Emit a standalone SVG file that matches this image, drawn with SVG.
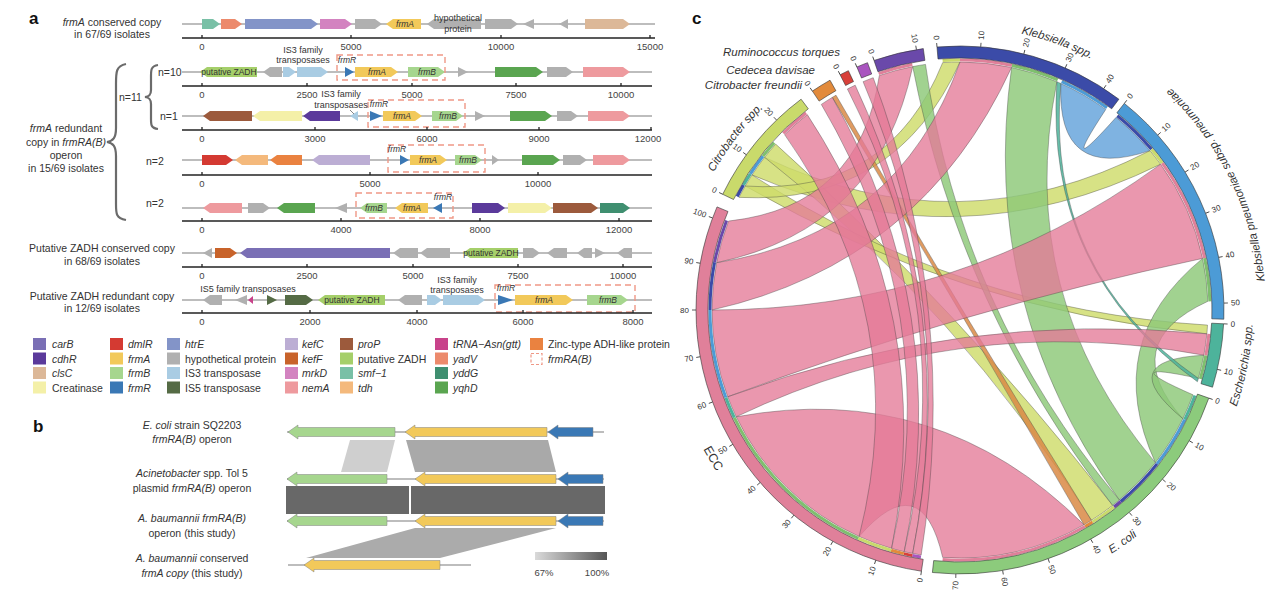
<svg xmlns="http://www.w3.org/2000/svg" width="1267" height="596" viewBox="0 0 1267 596">
<style>
text{font-family:"Liberation Sans",Arial,sans-serif;fill:#333}
.pl{font-size:17px;font-weight:bold;fill:#111}
.lab{font-size:10.5px;text-anchor:middle}
.i{font-style:italic}
.tk{font-size:9.5px;text-anchor:middle;fill:#444}
.gl{font-size:8.5px;font-style:italic;text-anchor:middle}
.gn{font-size:8.5px;text-anchor:middle}
.sm{font-size:9px;text-anchor:middle}
.trk{stroke:#bdbdbd;stroke-width:2}
.ax{stroke:#222;stroke-width:1.3}
.box{fill:none;stroke:#ef9886;stroke-width:1.4;stroke-dasharray:6 4}
.leg{font-size:10.5px}
.brace{fill:none;stroke:#6b6b6b;stroke-width:2.2}
.gb{stroke:#808080;stroke-width:0.5}
.ch{stroke:#3d3d3d;stroke-width:0.5;stroke-opacity:0.75}
.pk{fill:#e47a97;fill-opacity:0.78}
.gr{fill:#8cc878;fill-opacity:0.82}
.yl{fill:#cedc6a;fill-opacity:0.82}
.bl{fill:#69a6dc;fill-opacity:0.85}
.te{fill:#4db39b;fill-opacity:0.85}
.or{fill:#d98a45;fill-opacity:0.85}
.sec{stroke:#333;stroke-width:0.6}
.ctk{stroke:#333;stroke-width:0.8}
.cl{font-size:8px;dominant-baseline:central}
.cr{font-size:8px;dominant-baseline:central;text-anchor:end}
.st{fill:none;stroke-width:3}
.sl{font-size:11.5px;font-style:italic;text-anchor:middle}
.carB{fill:#7a6fb5}.cdhR{fill:#5b3a9b}.clsC{fill:#dcb898}.crea{fill:#f4f0a8}
.dmlR{fill:#d43a32}.frmA{fill:#f2c95a}.frmB{fill:#a6d68e}.frmR{fill:#3a78b5}
.htrE{fill:#8394c8}.hyp{fill:#b0b0b0}.is3{fill:#a9cce3}.is5{fill:#556b45}
.kefC{fill:#bcaed4}.kefF{fill:#c8632a}.mrkD{fill:#d383c0}.nemA{fill:#ee9a9e}
.proP{fill:#9c5a3c}.zadh{fill:#a5cf6a}.smf{fill:#79c0a6}.tdh{fill:#f4b97c}
.trna{fill:#c8428a}.yadV{fill:#ec8a6c}.yddG{fill:#3f8f70}.yqhD{fill:#5aa550}.zinc{fill:#ea8240}
</style>
<defs>
<line id="tkl" class="ctk" x1="958" y1="54" x2="958" y2="50"/>
<linearGradient id="simg" x1="0" x2="1" y1="0" y2="0"><stop offset="0" stop-color="#dadada"/><stop offset="1" stop-color="#555"/></linearGradient>
<path id="pKS" d="M 958 35 A 283 283 0 0 1 1139.9 101.2"/>
<path id="pKP" d="M 1263.8 307.3 A 306 306 0 0 0 1154.7 83.6"/>
<path id="pES" d="M 1225.7 437.2 A 293 293 0 0 0 1250.8 307.8"/>
<path id="pEC" d="M 1088.3 573.7 A 287 287 0 0 0 1153.7 527.9"/>
<path id="pECC" d="M 689.2 432.1 A 292 292 0 0 0 731.1 501.8"/>
<path id="pCS" d="M 693.0 221.6 A 282 282 0 0 1 796.2 87.0"/>
</defs>
<rect width="1267" height="596" fill="#fff"/>

<!-- ============ PANEL A ============ -->
<g id="panel-a">
<text class="pl" x="29" y="24">a</text>
<g id="labels-a">
<text class="lab" x="112" y="26"><tspan class="i">frmA</tspan> conserved copy</text>
<text class="lab" x="112" y="38">in 67/69 isolates</text>
<text class="lab" x="66" y="132"><tspan class="i">frmA</tspan> redundant</text>
<text class="lab" x="66" y="146">copy in <tspan class="i">frmRA(B)</tspan></text>
<text class="lab" x="66" y="159">operon</text>
<text class="lab" x="66" y="172">in 15/69 isolates</text>
<text class="lab" x="102" y="252">Putative ZADH conserved copy</text>
<text class="lab" x="102" y="265">in 68/69 isolates</text>
<text class="lab" x="102" y="300">Putative ZADH redundant copy</text>
<text class="lab" x="102" y="312">in 12/69 isolates</text>
<path class="brace" d="M126,64 C116,66 116,72 116,84 L116,128 C116,138 113,141 107,142 C113,143 116,146 116,156 L116,204 C116,214 116,218 126,220"/>
<path class="brace" d="M158,65 C151,66 151,70 151,76 L151,90 C151,95 149,96.5 145,97 C149,97.5 151,99 151,104 L151,119 C151,125 151,128 158,129"/>
<text class="leg" x="119" y="101">n=11</text>
<text class="leg" x="158" y="76">n=10</text>
<text class="leg" x="160" y="120">n=1</text>
<text class="leg" x="146" y="165">n=2</text>
<text class="leg" x="146" y="207">n=2</text>
</g>

<g id="track1" transform="translate(0,24)">
<line class="trk" x1="182" y1="0" x2="655" y2="0"/>
<polygon class="smf" points="202,-5 213,-5 220,0 213,5 202,5"/>
<polygon class="yadV" points="221,-5 235,-5 242,0 235,5 221,5"/>
<polygon class="htrE" points="245,-5 311,-5 318,0 311,5 245,5"/>
<polygon class="mrkD" points="320,-5 345,-5 352,0 345,5 320,5"/>
<polygon class="hyp" points="355,-5 375,-5 382,0 375,5 355,5"/>
<polygon class="frmA" points="421,-5 393,-5 386,0 393,5 421,5"/>
<polygon class="hyp" points="481,-5 434,-5 427,0 434,5 481,5"/>
<polygon class="hyp" points="485,-5 511,-5 518,0 511,5 485,5"/>
<polygon class="hyp" points="534,-5 523,0 534,5"/>
<polygon class="hyp" points="568,-5 559,0 568,5"/>
<polygon class="clsC" points="585,-5 623,-5 630,0 623,5 585,5"/>
<text class="gl" x="405" y="3">frmA</text>
<text class="sm" x="458" y="-3">hypothetical</text>
<text class="sm" x="458" y="8">protein</text>
<line class="ax" x1="182" y1="14" x2="655" y2="14"/>
<path class="ax" d="M202 11V14M351 11V14M501 11V14M650 11V14"/>
<text class="tk" x="202" y="26">0</text><text class="tk" x="351" y="26">5000</text><text class="tk" x="501" y="26">10000</text><text class="tk" x="650" y="26">15000</text>
</g>

<g id="track2" transform="translate(0,72)">
<line class="trk" x1="182" y1="0" x2="652" y2="0"/>
<polygon class="zadh" points="257,-5 207,-5 200,0 207,5 257,5"/>
<polygon class="hyp" points="282,-5 270,-5 263,0 270,5 282,5"/>
<polygon class="is3" points="283,-5 289,-5 296,0 289,5 283,5"/>
<polygon class="is3" points="297,-5 321,-5 328,0 321,5 297,5"/>
<polygon class="frmR" points="345,-5 354,0 345,5"/>
<polygon class="frmA" points="355,-5 391,-5 398,0 391,5 355,5"/>
<polygon class="frmB" points="408,-5 438,-5 445,0 438,5 408,5"/>
<polygon class="hyp" points="458,-5 468,0 458,5"/>
<polygon class="yqhD" points="495,-5 536,-5 543,0 536,5 495,5"/>
<polygon class="hyp" points="547,-5 566,-5 573,0 566,5 547,5"/>
<polygon class="nemA" points="583,-5 623,-5 630,0 623,5 583,5"/>
<rect class="box" x="337" y="-17" width="108" height="25"/>
<text class="gn" x="229" y="3">putative ZADH</text>
<text class="gl" x="377" y="3">frmA</text>
<text class="gl" x="427" y="3">frmB</text>
<text class="gl" x="347" y="-9">frmR</text>
<text class="sm" x="303" y="-19">IS3 family</text>
<text class="sm" x="303" y="-9">transposases</text>
<line class="ax" x1="182" y1="14" x2="652" y2="14"/>
<path class="ax" d="M202 11V14M307 11V14M412 11V14M516 11V14M621 11V14"/>
<text class="tk" x="202" y="26">0</text><text class="tk" x="307" y="26">2500</text><text class="tk" x="412" y="26">5000</text><text class="tk" x="516" y="26">7500</text><text class="tk" x="621" y="26">10000</text>
</g>

<g id="track3" transform="translate(0,116)">
<line class="trk" x1="182" y1="0" x2="652" y2="0"/>
<polygon class="proP" points="252,-5 210,-5 203,0 210,5 252,5"/>
<polygon class="crea" points="302,-5 260,-5 253,0 260,5 302,5"/>
<polygon class="cdhR" points="340,-5 310,-5 303,0 310,5 340,5"/>
<polygon class="is3" points="358,-5 350,0 358,5"/>
<polygon class="frmR" points="370,-5 382,0 370,5"/>
<polygon class="frmA" points="383,-5 415,-5 422,0 415,5 383,5"/>
<polygon class="frmB" points="432,-5 456,-5 463,0 456,5 432,5"/>
<polygon class="hyp" points="475,-5 485,0 475,5"/>
<polygon class="yqhD" points="510,-5 545,-5 552,0 545,5 510,5"/>
<polygon class="hyp" points="557,-5 571,-5 578,0 571,5 557,5"/>
<polygon class="nemA" points="588,-5 623,-5 630,0 623,5 588,5"/>
<rect class="box" x="368" y="-16" width="97" height="27"/>
<text class="gl" x="402" y="3">frmA</text>
<text class="gl" x="448" y="3">frmB</text>
<text class="gl" x="379" y="-9">frmR</text>
<text class="sm" x="341" y="-19">IS3 family</text>
<text class="sm" x="341" y="-8">transposases</text>
<line x1="350" y1="-6" x2="354" y2="-2" stroke="#555" stroke-width="0.7"/>
<line class="ax" x1="182" y1="14" x2="652" y2="14"/>
<path class="ax" d="M202 11V14M315 11V14M427 11V14M539 11V14M651 11V14"/>
<text class="tk" x="202" y="26">0</text><text class="tk" x="315" y="26">3000</text><text class="tk" x="427" y="26">6000</text><text class="tk" x="539" y="26">9000</text><text class="tk" x="648" y="26">12000</text>
</g>

<g id="track4" transform="translate(0,160)">
<line class="trk" x1="182" y1="0" x2="652" y2="0"/>
<polygon class="dmlR" points="202,-5 226,-5 233,0 226,5 202,5"/>
<polygon class="tdh" points="268,-5 242,-5 235,0 242,5 268,5"/>
<polygon class="zinc" points="302,-5 277,-5 270,0 277,5 302,5"/>
<polygon class="kefC" points="370,-5 319,-5 312,0 319,5 370,5"/>
<polygon class="frmR" points="400,-5 409,0 400,5"/>
<polygon class="frmA" points="410,-5 440,-5 447,0 440,5 410,5"/>
<polygon class="frmB" points="455,-5 475,-5 482,0 475,5 455,5"/>
<polygon class="hyp" points="492,-5 499,0 492,5"/>
<polygon class="yqhD" points="522,-5 553,-5 560,0 553,5 522,5"/>
<polygon class="hyp" points="563,-5 580,-5 587,0 580,5 563,5"/>
<polygon class="nemA" points="593,-5 623,-5 630,0 623,5 593,5"/>
<rect class="box" x="388" y="-15" width="97" height="27"/>
<text class="gl" x="428" y="3">frmA</text>
<text class="gl" x="468" y="3">frmB</text>
<text class="gl" x="397" y="-8">frmR</text>
<line class="ax" x1="182" y1="15" x2="652" y2="15"/>
<path class="ax" d="M202 12V15M370 12V15M538 12V15"/>
<text class="tk" x="202" y="27">0</text><text class="tk" x="370" y="27">5000</text><text class="tk" x="538" y="27">10000</text>
</g>

<g id="track5" transform="translate(0,208)">
<line class="trk" x1="182" y1="0" x2="652" y2="0"/>
<polygon class="nemA" points="242,-5 210,-5 203,0 210,5 242,5"/>
<polygon class="hyp" points="248,-5 263,-5 270,0 263,5 248,5"/>
<polygon class="yqhD" points="315,-5 284,-5 277,0 284,5 315,5"/>
<polygon class="hyp" points="347,-5 335,0 347,5"/>
<polygon class="frmB" points="387,-5 367,-5 360,0 367,5 387,5"/>
<polygon class="frmA" points="428,-5 402,-5 395,0 402,5 428,5"/>
<polygon class="frmR" points="442,-5 433,0 442,5"/>
<polygon class="cdhR" points="472,-5 498,-5 505,0 498,5 472,5"/>
<polygon class="crea" points="508,-5 545,-5 552,0 545,5 508,5"/>
<polygon class="proP" points="553,-5 591,-5 598,0 591,5 553,5"/>
<polygon class="yddG" points="600,-5 623,-5 630,0 623,5 600,5"/>
<rect class="box" x="356" y="-15" width="97" height="25"/>
<text class="gl" x="374" y="3">frmB</text>
<text class="gl" x="412" y="3">frmA</text>
<text class="gl" x="443" y="-8">frmR</text>
<line class="ax" x1="182" y1="13" x2="652" y2="13"/>
<path class="ax" d="M202 10V13M341 10V13M480 10V13M619 10V13"/>
<text class="tk" x="202" y="25">0</text><text class="tk" x="341" y="25">4000</text><text class="tk" x="480" y="25">8000</text><text class="tk" x="619" y="25">12000</text>
</g>

<g id="track6" transform="translate(0,253)">
<line class="trk" x1="182" y1="0" x2="652" y2="0"/>
<polygon class="hyp" points="212,-5 203,0 212,5"/>
<polygon class="kefF" points="215,-5 230,-5 237,0 230,5 215,5"/>
<polygon class="carB" points="390,-5 247,-5 240,0 247,5 390,5"/>
<polygon class="hyp" points="418,-5 400,-5 393,0 400,5 418,5"/>
<polygon class="hyp" points="450,-5 427,-5 420,0 427,5 450,5"/>
<polygon class="zadh" points="518,-5 470,-5 463,0 470,5 518,5"/>
<polygon class="hyp" points="523,-5 533,-5 540,0 533,5 523,5"/>
<polygon class="hyp" points="567,-5 554,-5 547,0 554,5 567,5"/>
<polygon class="hyp" points="592,-5 584,-5 577,0 584,5 592,5"/>
<polygon class="hyp" points="595,-5 605,0 595,5"/>
<polygon class="hyp" points="632,-5 624,-5 617,0 624,5 632,5"/>
<text class="gn" x="491" y="3">putative ZADH</text>
<line class="ax" x1="182" y1="14" x2="652" y2="14"/>
<path class="ax" d="M202 11V14M307 11V14M413 11V14M518 11V14M623 11V14"/>
<text class="tk" x="202" y="26">0</text><text class="tk" x="307" y="26">2500</text><text class="tk" x="413" y="26">5000</text><text class="tk" x="518" y="26">7500</text><text class="tk" x="623" y="26">10000</text>
</g>

<g id="track7" transform="translate(0,300)">
<line class="trk" x1="182" y1="0" x2="652" y2="0"/>
<polygon class="hyp" points="222,-5 210,-5 203,0 210,5 222,5"/>
<polygon class="hyp" points="247,-5 235,0 247,5"/>
<polygon class="trna" points="253,-4 248,0 253,4"/>
<polygon class="is5" points="267,-5 277,0 267,5"/>
<polygon class="is5" points="285,-5 306,-5 313,0 306,5 285,5"/>
<polygon class="zadh" points="385,-5 325,-5 318,0 325,5 385,5"/>
<polygon class="hyp" points="422,-5 405,-5 398,0 405,5 422,5"/>
<polygon class="is3" points="427,-5 435,-5 442,0 435,5 427,5"/>
<polygon class="is3" points="443,-5 478,-5 485,0 478,5 443,5"/>
<polygon class="frmR" points="498,-5 513,0 498,5"/>
<polygon class="frmA" points="515,-5 566,-5 573,0 566,5 515,5"/>
<polygon class="frmB" points="587,-5 621,-5 628,0 621,5 587,5"/>
<rect class="box" x="495" y="-15" width="140" height="27"/>
<text class="gn" x="352" y="3">putative ZADH</text>
<text class="gl" x="544" y="3">frmA</text>
<text class="gl" x="608" y="3">frmB</text>
<text class="gl" x="506" y="-9">frmR</text>
<text class="sm" x="248" y="-8" text-anchor="start">IS5 family transposases</text>
<text class="sm" x="457" y="-17">IS3 family</text>
<text class="sm" x="457" y="-7">transposases</text>
<line class="ax" x1="182" y1="13" x2="652" y2="13"/>
<path class="ax" d="M202 10V13M310 10V13M417 10V13M523 10V13M633 10V13"/>
<text class="tk" x="202" y="25">0</text><text class="tk" x="310" y="25">2000</text><text class="tk" x="417" y="25">4000</text><text class="tk" x="523" y="25">6000</text><text class="tk" x="633" y="25">8000</text>
</g>

<g id="legend-a">
<rect class="carB" x="33" y="338" width="13" height="12"/><text class="leg i" x="52" y="348">carB</text>
<rect class="cdhR" x="33" y="352.5" width="13" height="12"/><text class="leg i" x="52" y="362.5">cdhR</text>
<rect class="clsC" x="33" y="367" width="13" height="12"/><text class="leg i" x="52" y="377">clsC</text>
<rect class="crea" x="33" y="381.5" width="13" height="12"/><text class="leg" x="52" y="391.5">Creatinase</text>
<rect class="dmlR" x="110" y="338" width="13" height="12"/><text class="leg i" x="128" y="348">dmlR</text>
<rect class="frmA" x="110" y="352.5" width="13" height="12"/><text class="leg i" x="128" y="362.5">frmA</text>
<rect class="frmB" x="110" y="367" width="13" height="12"/><text class="leg i" x="128" y="377">frmB</text>
<rect class="frmR" x="110" y="381.5" width="13" height="12"/><text class="leg i" x="128" y="391.5">frmR</text>
<rect class="htrE" x="167" y="338" width="13" height="12"/><text class="leg i" x="185" y="348">htrE</text>
<rect class="hyp" x="167" y="352.5" width="13" height="12"/><text class="leg" x="185" y="362.5">hypothetical protein</text>
<rect class="is3" x="167" y="367" width="13" height="12"/><text class="leg" x="185" y="377">IS3 transposase</text>
<rect class="is5" x="167" y="381.5" width="13" height="12"/><text class="leg" x="185" y="391.5">IS5 transposase</text>
<rect class="kefC" x="285" y="338" width="13" height="12"/><text class="leg i" x="302" y="348">kefC</text>
<rect class="kefF" x="285" y="352.5" width="13" height="12"/><text class="leg i" x="302" y="362.5">kefF</text>
<rect class="mrkD" x="285" y="367" width="13" height="12"/><text class="leg i" x="302" y="377">mrkD</text>
<rect class="nemA" x="285" y="381.5" width="13" height="12"/><text class="leg i" x="302" y="391.5">nemA</text>
<rect class="proP" x="340" y="338" width="13" height="12"/><text class="leg i" x="358" y="348">proP</text>
<rect class="zadh" x="340" y="352.5" width="13" height="12"/><text class="leg" x="358" y="362.5">putative ZADH</text>
<rect class="smf" x="340" y="367" width="13" height="12"/><text class="leg i" x="358" y="377">smf−1</text>
<rect class="tdh" x="340" y="381.5" width="13" height="12"/><text class="leg i" x="358" y="391.5">tdh</text>
<rect class="trna" x="435" y="338" width="13" height="12"/><text class="leg i" x="453" y="348">tRNA−Asn(gtt)</text>
<rect class="yadV" x="435" y="352.5" width="13" height="12"/><text class="leg i" x="453" y="362.5">yadV</text>
<rect class="yddG" x="435" y="367" width="13" height="12"/><text class="leg i" x="453" y="377">yddG</text>
<rect class="yqhD" x="435" y="381.5" width="13" height="12"/><text class="leg i" x="453" y="391.5">yqhD</text>
<rect class="zinc" x="530" y="338" width="13" height="12"/><text class="leg" x="548" y="348">Zinc-type ADH-like protein</text>
<rect x="531" y="353.5" width="11" height="11" fill="none" stroke="#ef9886" stroke-width="1.2" stroke-dasharray="3 2"/><text class="leg i" x="548" y="362.5">frmRA(B)</text>
</g>
</g>

<!-- ============ PANEL B ============ -->
<g id="panel-b">
<text class="pl" x="33" y="432">b</text>
<text class="lab" x="192" y="429"><tspan class="i">E. coli</tspan> strain SQ2203</text>
<text class="lab" x="192" y="443"><tspan class="i">frmRA(B)</tspan> operon</text>
<text class="lab" x="192" y="477"><tspan class="i">Acinetobacter</tspan>  spp. Tol 5</text>
<text class="lab" x="192" y="492">plasmid <tspan class="i">frmRA(B)</tspan> operon</text>
<text class="lab" x="192" y="522"><tspan class="i">A. baumannii frmRA(B)</tspan></text>
<text class="lab" x="192" y="537">operon (this study)</text>
<text class="lab" x="192" y="562"><tspan class="i">A. baumannii</tspan> conserved</text>
<text class="lab" x="192" y="577"><tspan class="i">frmA copy</tspan> (this study)</text>
<g id="similarity">
<polygon points="350,440 395,440 387,472 341,472" fill="#cfcfcf"/>
<polygon points="406,440 548,440 556,472 415,472" fill="#a9a9a9"/>
<polygon points="286,486 409,486 409,514 286,514" fill="#686868"/>
<polygon points="411,486 605,486 605,514 411,514" fill="#686868"/>
<polygon points="415,528 556,528 440,558 306,558" fill="#ababab"/>
</g>
<g id="op1" transform="translate(0,432)">
<line class="trk" x1="287" y1="0" x2="604" y2="0"/>
<polygon class="frmB gb" points="288,0 298,-7 298,-4.5 395,-4.5 395,4.5 298,4.5 298,7"/>
<polygon class="frmA gb" points="405,0 415,-7 415,-4.5 547,-4.5 547,4.5 415,4.5 415,7"/>
<polygon class="frmR gb" points="548,0 558,-7 558,-4.5 593,-4.5 593,4.5 558,4.5 558,7"/>
</g>
<g id="op2" transform="translate(0,479)">
<line class="trk" x1="287" y1="0" x2="604" y2="0"/>
<polygon class="frmB gb" points="287,0 297,-7 297,-4.5 387,-4.5 387,4.5 297,4.5 297,7"/>
<polygon class="frmA gb" points="415,0 425,-7 425,-4.5 556,-4.5 556,4.5 425,4.5 425,7"/>
<polygon class="frmR gb" points="558,0 568,-7 568,-4.5 603,-4.5 603,4.5 568,4.5 568,7"/>
</g>
<g id="op3" transform="translate(0,521)">
<line class="trk" x1="287" y1="0" x2="604" y2="0"/>
<polygon class="frmB gb" points="287,0 297,-7 297,-4.5 387,-4.5 387,4.5 297,4.5 297,7"/>
<polygon class="frmA gb" points="415,0 425,-7 425,-4.5 556,-4.5 556,4.5 425,4.5 425,7"/>
<polygon class="frmR gb" points="558,0 568,-7 568,-4.5 603,-4.5 603,4.5 568,4.5 568,7"/>
</g>
<g id="op4" transform="translate(0,565)">
<line class="trk" x1="288" y1="0" x2="471" y2="0"/>
<polygon class="frmA gb" points="304,0 314,-7 314,-4.5 440,-4.5 440,4.5 314,4.5 314,7"/>
</g>
<g id="scale-b">
<rect x="535" y="552" width="72" height="8" fill="url(#simg)"/>
<text class="tk" x="544" y="576">67%</text>
<text class="tk" x="597" y="576">100%</text>
</g>
</g>

<!-- ============ PANEL C ============ -->
<text class="pl" x="692" y="24">c</text>
<text class="sl" x="840" y="56" style="text-anchor:end">Ruminococcus torques</text>
<text class="sl" x="815" y="74" style="text-anchor:end">Cedecea davisae</text>
<text class="sl" x="802" y="89" style="text-anchor:end">Citrobacter freundii</text>
<g id="panel-c" transform="translate(2,-8)">
<g id="connectors">
<path class="ch yl" d="M 750.0 182.9 A 248 248 0 0 1 762.6 165.3 Q 956.9 257.2 1148.0 158.6 A 248 248 0 0 1 1158.6 172.2 Q 956.8 271.6 750.0 182.9 Z"/>
<path class="ch yl" d="M 762.6 165.3 A 248 248 0 0 1 773.7 152.1 Q 958 318 1110.7 513.4 A 248 248 0 0 1 1089.4 528.3 Q 958 318 762.6 165.3 Z"/>
<path class="ch yl" d="M 743.2 194.0 A 248 248 0 0 1 750.0 182.9 Q 958 318 1205.5 333.1 A 248 248 0 0 1 1204.9 341.8 Q 958 318 743.2 194.0 Z"/>
<path class="ch yl" d="M 737.0 205.4 A 248 248 0 0 1 743.2 194.0 Q 886.8 204.0 940.7 70.6 A 248 248 0 0 1 958 70 Q 893.6 213.0 737.0 205.4 Z"/>
<path class="ch gr" d="M 1009.6 75.4 A 248 248 0 0 1 1054.9 89.7 Q 1012.2 304.0 1153.4 470.7 A 248 248 0 0 1 1117.4 508.0 Q 976.6 313.4 1009.6 75.4 Z"/>
<path class="ch gr" d="M 1200.6 266.4 A 248 248 0 0 1 1205.9 309.3 Q 1114.5 351.3 1180.9 426.7 A 248 248 0 0 1 1153.4 470.7 Q 1098.3 350.4 1200.6 266.4 Z"/>
<path class="ch gr" d="M 1201.9 363.2 A 248 248 0 0 1 1196.4 386.4 Q 1110.2 367.4 1191.0 402.8 A 248 248 0 0 1 1180.9 426.7 Q 1110.0 368.1 1201.9 363.2 Z"/>
<path class="ch gr" d="M 910.7 74.6 A 248 248 0 0 1 923.5 72.4 Q 958 318 1117.4 508.0 A 248 248 0 0 1 1110.7 513.4 Q 958 318 910.7 74.6 Z"/>
<path class="ch te" d="M 1054.9 89.7 A 248 248 0 0 1 1058.9 91.5 Q 1042.1 278.8 1196.4 386.4 A 248 248 0 0 1 1195.4 389.7 Q 1042.1 278.8 1054.9 89.7 Z"/>
<path class="ch or" d="M 830.3 105.4 A 248 248 0 0 1 834.0 103.2 Q 958 318 1089.4 528.3 A 248 248 0 0 1 1082.0 532.8 Q 958 318 830.3 105.4 Z"/>
<path class="ch bl" d="M 1058.9 91.5 A 248 248 0 0 1 1103.8 117.4 Q 1055.4 191.1 1114.1 125.3 A 248 248 0 0 1 1148.0 158.6 Q 1054.3 190.2 1058.9 91.5 Z"/>
<path class="ch pk" d="M 857.1 544.5 A 248 248 0 0 1 734.2 424.8 Q 936.4 387.5 1082.0 532.8 A 248 248 0 0 1 940.7 565.4 Q 919.3 473.2 857.1 544.5 Z"/>
<path class="ch pk" d="M 725.7 404.8 A 248 248 0 0 1 710 318 Q 958 318 1158.6 172.2 A 248 248 0 0 1 1200.6 266.4 Q 958 318 725.7 404.8 Z"/>
<path class="ch pk" d="M 710 318 A 248 248 0 0 1 714.6 270.7 Q 895.9 242.7 958 70 A 248 248 0 0 1 1009.6 75.4 Q 919.7 270.8 710 318 Z"/>
<path class="ch pk" d="M 714.6 270.7 A 248 248 0 0 1 726.5 229.1 Q 858.0 214.4 877.3 83.5 A 248 248 0 0 1 910.7 74.6 Q 876.5 236.5 714.6 270.7 Z"/>
<path class="ch pk" d="M 734.2 424.8 A 248 248 0 0 1 725.7 404.8 Q 958 318 1204.9 341.8 A 248 248 0 0 1 1201.9 363.2 Q 958 318 734.2 424.8 Z"/>
<path class="ch pk" d="M 889.6 556.4 A 248 248 0 0 1 857.1 544.5 Q 912.4 326.5 782.6 142.6 A 248 248 0 0 1 805.3 122.6 Q 936 322.3 889.6 556.4 Z"/>
<path class="ch pk" d="M 902.2 559.7 A 248 248 0 0 1 889.6 556.4 Q 942.2 320.5 819.3 112.4 A 248 248 0 0 1 830.3 105.4 Q 952 319 902.2 559.7 Z"/>
<path class="ch pk" d="M 910.7 561.4 A 248 248 0 0 1 902.2 559.7 Q 958 318 845.4 97.0 A 248 248 0 0 1 853.2 93.2 Q 958 318 910.7 561.4 Z"/>
<path class="ch pk" d="M 919.2 563.0 A 248 248 0 0 1 910.7 561.4 Q 958 318 861.1 89.7 A 248 248 0 0 1 871.2 85.7 Q 958 318 919.2 563.0 Z"/>
</g>
<g id="link-ends" transform="rotate(-90 958 318)">
<circle class="st" cx="958" cy="318" r="250" pathLength="360" stroke="#a955bf" stroke-dasharray="0 189 2 400"/>
<circle class="st" cx="958" cy="318" r="250" pathLength="360" stroke="#d8403a" stroke-dasharray="0 191 2 400"/>
<circle class="st" cx="958" cy="318" r="250" pathLength="360" stroke="#e28a3b" stroke-dasharray="0 193 3 400"/>
<circle class="st" cx="958" cy="318" r="250" pathLength="360" stroke="#c9da6b" stroke-dasharray="0 196 8 400"/>
<circle class="st" cx="958" cy="318" r="250" pathLength="360" stroke="#7fbf6e" stroke-dasharray="0 204 40.5 400"/>
<circle class="st" cx="958" cy="318" r="250" pathLength="360" stroke="#4db39b" stroke-dasharray="0 244.5 5 400"/>
<circle class="st" cx="958" cy="318" r="250" pathLength="360" stroke="#4c9bd6" stroke-dasharray="0 249.5 20.5 400"/>
<circle class="st" cx="958" cy="318" r="250" pathLength="360" stroke="#3b4ba8" stroke-dasharray="0 270 11 400"/>
<circle class="st" cx="958" cy="318" r="250" pathLength="360" stroke="#6a49aa" stroke-dasharray="0 281 10 400"/>
<circle class="st" cx="958" cy="318" r="250" pathLength="360" stroke="#4db39b" stroke-dasharray="0 110 6 400"/>
<circle class="st" cx="958" cy="318" r="250" pathLength="360" stroke="#4c9bd6" stroke-dasharray="0 116 12 400"/>
<circle class="st" cx="958" cy="318" r="250" pathLength="360" stroke="#3b4ba8" stroke-dasharray="0 128 12 400"/>
<circle class="st" cx="958" cy="318" r="250" pathLength="360" stroke="#6a49aa" stroke-dasharray="0 140 2 400"/>
<circle class="st" cx="958" cy="318" r="250" pathLength="360" stroke="#c9da6b" stroke-dasharray="0 142 6 400"/>
<circle class="st" cx="958" cy="318" r="250" pathLength="360" stroke="#e28a3b" stroke-dasharray="0 148 2 400"/>
<circle class="st" cx="958" cy="318" r="250" pathLength="360" stroke="#e0809a" stroke-dasharray="0 150 34 400"/>
<circle class="st" cx="958" cy="318" r="250" pathLength="360" stroke="#3b4ba8" stroke-dasharray="0 39 11 400"/>
<circle class="st" cx="958" cy="318" r="250" pathLength="360" stroke="#c9da6b" stroke-dasharray="0 50 4 400"/>
<circle class="st" cx="958" cy="318" r="250" pathLength="360" stroke="#e0809a" stroke-dasharray="0 54 24 400"/>
<circle class="st" cx="958" cy="318" r="250" pathLength="360" stroke="#7fbf6e" stroke-dasharray="0 78 10 400"/>
<circle class="st" cx="958" cy="318" r="250" pathLength="360" stroke="#c9da6b" stroke-dasharray="0 356 4 400"/>
<circle class="st" cx="958" cy="318" r="250" pathLength="360" stroke="#e0809a" stroke-dasharray="0 0 12 400"/>
<circle class="st" cx="958" cy="318" r="250" pathLength="360" stroke="#7fbf6e" stroke-dasharray="0 12 11 400"/>
<circle class="st" cx="958" cy="318" r="250" pathLength="360" stroke="#4c9bd6" stroke-dasharray="0 24 12 400"/>
<circle class="st" cx="958" cy="318" r="250" pathLength="360" stroke="#3b4ba8" stroke-dasharray="0 297 3 400"/>
<circle class="st" cx="958" cy="318" r="250" pathLength="360" stroke="#4db39b" stroke-dasharray="0 300 3 400"/>
<circle class="st" cx="958" cy="318" r="250" pathLength="360" stroke="#4c9bd6" stroke-dasharray="0 303 5 400"/>
<circle class="st" cx="958" cy="318" r="250" pathLength="360" stroke="#7fbf6e" stroke-dasharray="0 308 4 400"/>
<circle class="st" cx="958" cy="318" r="250" pathLength="360" stroke="#e0809a" stroke-dasharray="0 315 7 400"/>
<circle class="st" cx="958" cy="318" r="250" pathLength="360" stroke="#e0809a" stroke-dasharray="0 95.5 5 400"/>
<circle class="st" cx="958" cy="318" r="250" pathLength="360" stroke="#7fbf6e" stroke-dasharray="0 100.5 5.5 400"/>
<circle class="st" cx="958" cy="318" r="250" pathLength="360" stroke="#e0809a" stroke-dasharray="0 341 8 400"/>
</g>

<g id="sector-KS">
<path class="sec" fill="#3b4ba8" d="M 935.0 55.0 A 264 264 0 0 1 1116.9 107.2 L 1109.7 116.8 A 252 252 0 0 0 936.0 67.0 Z"/>
<use href="#tkl" transform="rotate(355 958 318)"/><use href="#tkl" transform="rotate(4.5 958 318)"/><use href="#tkl" transform="rotate(14 958 318)"/><use href="#tkl" transform="rotate(23.5 958 318)"/><use href="#tkl" transform="rotate(33 958 318)"/>
<text class="cr" transform="rotate(355 958 318) translate(958 47) rotate(90)">0</text>
<text class="cl" transform="rotate(4.5 958 318) translate(958 47) rotate(-90)">10</text>
<text class="cl" transform="rotate(14 958 318) translate(958 47) rotate(-90)">20</text>
<text class="cl" transform="rotate(23.5 958 318) translate(958 47) rotate(-90)">30</text>
<text class="cl" transform="rotate(33 958 318) translate(958 47) rotate(-90)">40</text>
<text class="sl"><textPath href="#pKS" startOffset="50%">Klebsiella spp.</textPath></text>
</g>
<g id="sector-KP">
<path class="sec" fill="#4c9bd6" d="M 1122.3 111.4 A 264 264 0 0 1 1221.8 327.2 L 1209.8 326.8 A 252 252 0 0 0 1114.9 120.8 Z"/>
<use href="#tkl" transform="rotate(38.5 958 318)"/><use href="#tkl" transform="rotate(48.5 958 318)"/><use href="#tkl" transform="rotate(58.5 958 318)"/><use href="#tkl" transform="rotate(68.5 958 318)"/><use href="#tkl" transform="rotate(78.5 958 318)"/><use href="#tkl" transform="rotate(88.5 958 318)"/>
<text class="cl" transform="rotate(38.5 958 318) translate(958 47) rotate(-90)">0</text>
<text class="cl" transform="rotate(48.5 958 318) translate(958 47) rotate(-90)">10</text>
<text class="cl" transform="rotate(58.5 958 318) translate(958 47) rotate(-90)">20</text>
<text class="cl" transform="rotate(68.5 958 318) translate(958 47) rotate(-90)">30</text>
<text class="cl" transform="rotate(78.5 958 318) translate(958 47) rotate(-90)">40</text>
<text class="cl" transform="rotate(88.5 958 318) translate(958 47) rotate(-90)">50</text>
<text class="sl"><textPath href="#pKP" startOffset="50%">Klebsiella pneumoniae subsp. pneumoniae</textPath></text>
</g>
<g id="sector-ES">
<path class="sec" fill="#4db39b" d="M 1221.6 331.8 A 264 264 0 0 1 1210.5 395.2 L 1199.0 391.7 A 252 252 0 0 0 1209.6 331.2 Z"/>
<use href="#tkl" transform="rotate(93 958 318)"/><use href="#tkl" transform="rotate(103 958 318)"/>
<text class="cl" transform="rotate(93 958 318) translate(958 47) rotate(-90)">0</text>
<text class="cl" transform="rotate(103 958 318) translate(958 47) rotate(-90)">10</text>
<text class="sl"><textPath href="#pES" startOffset="50%">Escherichia spp.</textPath></text>
</g>
<g id="sector-EC">
<path class="sec" fill="#8ccb7c" d="M 1206.8 406.1 A 264 264 0 0 1 930.4 580.5 L 931.7 568.6 A 252 252 0 0 0 1195.5 402.1 Z"/>
<use href="#tkl" transform="rotate(109.5 958 318)"/><use href="#tkl" transform="rotate(119.7 958 318)"/><use href="#tkl" transform="rotate(129.9 958 318)"/><use href="#tkl" transform="rotate(140.1 958 318)"/><use href="#tkl" transform="rotate(150.3 958 318)"/><use href="#tkl" transform="rotate(160.5 958 318)"/><use href="#tkl" transform="rotate(170.7 958 318)"/><use href="#tkl" transform="rotate(180.9 958 318)"/>
<text class="cl" transform="rotate(109.5 958 318) translate(958 47) rotate(-90)">0</text>
<text class="cl" transform="rotate(119.7 958 318) translate(958 47) rotate(-90)">10</text>
<text class="cl" transform="rotate(129.9 958 318) translate(958 47) rotate(-90)">20</text>
<text class="cl" transform="rotate(140.1 958 318) translate(958 47) rotate(-90)">30</text>
<text class="cl" transform="rotate(150.3 958 318) translate(958 47) rotate(-90)">40</text>
<text class="cl" transform="rotate(160.5 958 318) translate(958 47) rotate(-90)">50</text>
<text class="cl" transform="rotate(170.7 958 318) translate(958 47) rotate(-90)">60</text>
<text class="cr" transform="rotate(180.9 958 318) translate(958 47) rotate(90)">70</text>
<text class="sl"><textPath href="#pEC" startOffset="50%">E. coli</textPath></text>
</g>
<g id="sector-ECC">
<path class="sec" fill="#e0809a" d="M 919.4 579.2 A 264 264 0 0 1 715.0 214.9 L 726.0 219.5 A 252 252 0 0 0 921.2 567.3 Z"/>
<use href="#tkl" transform="rotate(188.4 958 318)"/><use href="#tkl" transform="rotate(198.6 958 318)"/><use href="#tkl" transform="rotate(208.8 958 318)"/><use href="#tkl" transform="rotate(219 958 318)"/><use href="#tkl" transform="rotate(229.2 958 318)"/><use href="#tkl" transform="rotate(239.4 958 318)"/><use href="#tkl" transform="rotate(249.6 958 318)"/><use href="#tkl" transform="rotate(259.8 958 318)"/><use href="#tkl" transform="rotate(270 958 318)"/><use href="#tkl" transform="rotate(280.2 958 318)"/><use href="#tkl" transform="rotate(290.4 958 318)"/>
<text class="cr" transform="rotate(188.4 958 318) translate(958 47) rotate(90)">0</text>
<text class="cr" transform="rotate(198.6 958 318) translate(958 47) rotate(90)">10</text>
<text class="cr" transform="rotate(208.8 958 318) translate(958 47) rotate(90)">20</text>
<text class="cr" transform="rotate(219 958 318) translate(958 47) rotate(90)">30</text>
<text class="cr" transform="rotate(229.2 958 318) translate(958 47) rotate(90)">40</text>
<text class="cr" transform="rotate(239.4 958 318) translate(958 47) rotate(90)">50</text>
<text class="cr" transform="rotate(249.6 958 318) translate(958 47) rotate(90)">60</text>
<text class="cr" transform="rotate(259.8 958 318) translate(958 47) rotate(90)">70</text>
<text class="cr" transform="rotate(270 958 318) translate(958 47) rotate(90)">80</text>
<text class="cr" transform="rotate(280.2 958 318) translate(958 47) rotate(90)">90</text>
<text class="cr" transform="rotate(290.4 958 318) translate(958 47) rotate(90)">100</text>
<text style="font-size:12.5px;text-anchor:middle"><textPath href="#pECC" startOffset="50%">ECC</textPath></text>
</g>
<g id="sector-CS">
<path class="sec" fill="#c9da6b" d="M 720.7 202.3 A 264 264 0 0 1 799.1 107.2 L 806.3 116.8 A 252 252 0 0 0 731.5 207.5 Z"/>
<use href="#tkl" transform="rotate(296 958 318)"/><use href="#tkl" transform="rotate(306 958 318)"/><use href="#tkl" transform="rotate(316 958 318)"/>
<text class="cr" transform="rotate(296 958 318) translate(958 47) rotate(90)">0</text>
<text class="cr" transform="rotate(306 958 318) translate(958 47) rotate(90)">10</text>
<text class="cr" transform="rotate(316 958 318) translate(958 47) rotate(90)">20</text>
<text class="sl"><textPath href="#pCS" startOffset="50%">Citrobacter spp.</textPath></text>
</g>
<g id="sector-CF">
<path class="sec" fill="#e28a3b" d="M 810.4 99.1 A 264 264 0 0 1 828.0 88.2 L 833.9 98.7 A 252 252 0 0 0 817.1 109.1 Z"/>
<use href="#tkl" transform="rotate(326 958 318)"/>
<text class="cr" transform="rotate(326 958 318) translate(958 47) rotate(90)">0</text>
</g>
<g id="sector-CD">
<path class="sec" fill="#d8403a" d="M 838.1 82.8 A 264 264 0 0 1 846.4 78.7 L 851.5 89.6 A 252 252 0 0 0 843.6 93.5 Z"/>
<use href="#tkl" transform="rotate(333 958 318)"/>
<text class="cr" transform="rotate(333 958 318) translate(958 47) rotate(90)">0</text>
</g>
<g id="sector-RT">
<path class="sec" fill="#a955bf" d="M 854.9 75.0 A 264 264 0 0 1 865.5 70.7 L 869.7 82.0 A 252 252 0 0 0 859.5 86.0 Z"/>
<use href="#tkl" transform="rotate(337 958 318)"/>
<text class="cr" transform="rotate(337 958 318) translate(958 47) rotate(90)">0</text>
</g>
<g id="sector-UP">
<path class="sec" fill="#6a49aa" d="M 872.0 68.4 A 264 264 0 0 1 921.3 56.6 L 922.9 68.4 A 252 252 0 0 0 875.9 79.7 Z"/>
<use href="#tkl" transform="rotate(341 958 318)"/><use href="#tkl" transform="rotate(350.5 958 318)"/>
<text class="cr" transform="rotate(341 958 318) translate(958 47) rotate(90)">0</text>
<text class="cr" transform="rotate(350.5 958 318) translate(958 47) rotate(90)">10</text>
</g>
</g>
</svg>
